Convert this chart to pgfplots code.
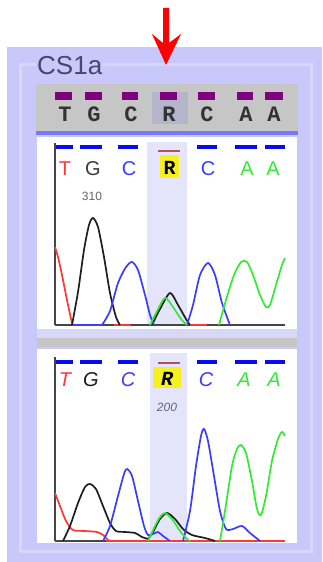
\documentclass[border=0pt]{standalone}
\usepackage{pgfplots}
\pgfplotsset{compat=1.18}
\usepackage{fontspec}
\setmainfont{Liberation Sans}
\newfontfamily\monof{Liberation Mono}
\definecolor{lav}{RGB}{200,200,250}
\definecolor{lavlight}{RGB}{215,215,248}
\definecolor{band}{RGB}{228,228,250}
\definecolor{hdrgray}{RGB}{198,198,198}
\definecolor{hdrhl}{RGB}{180,180,202}
\definecolor{pur}{RGB}{128,0,128}
\definecolor{tred}{RGB}{255,55,55}
\definecolor{tblue}{RGB}{60,60,255}
\definecolor{tgreen}{RGB}{50,235,50}
\definecolor{tblack}{RGB}{30,30,30}
\definecolor{titlec}{RGB}{70,70,110}
\definecolor{barblue}{RGB}{10,10,240}
\definecolor{rbar}{RGB}{180,80,90}
\definecolor{yel}{RGB}{245,240,30}
\definecolor{axc}{RGB}{70,70,70}
\definecolor{hdrline}{RGB}{120,120,255}
\definecolor{hdrtext}{RGB}{50,50,50}
\definecolor{gtext}{RGB}{60,60,60}
\definecolor{numc}{RGB}{100,100,115}
\definecolor{numc2}{RGB}{100,100,130}
\pgfplotsset{chrom/.style={
  scale only axis, width=230pt, xmin=55, xmax=285, ymin=0,
  axis x line=bottom, axis y line=left,
  axis line style={-, line width=2.5pt, draw=axc},
  xtick=\empty, ytick=\empty, clip=false,
  every axis plot/.append style={line width=1.7pt, smooth, tension=0.45}}}
\begin{document}
\begin{tikzpicture}[x=1pt,y=1pt]
\useasboundingbox (0,0) rectangle (322,562);
\fill[white] (0,0) rectangle (322,562);
% outer panel
\fill[lav] (7,0) rectangle (322,515);
\draw[lavlight, line width=3pt] (20,10) rectangle (311,497);
\node[anchor=base west, fill=lav, inner sep=1pt, text=titlec,
      font=\fontsize{26}{28}\selectfont] at (36,487) {CS1a};
% header
\fill[hdrgray] (36,431) rectangle (298,478);
\fill[hdrhl] (152,438) rectangle (188,470);
\fill[hdrline] (36,427) rectangle (298,431);
\foreach \a/\b in {55/72,85/102,122/138,160/177,198/215,237/253,265/283}
  \fill[pur] (\a,462) rectangle (\b,470);
\foreach \x/\l in {65/T,94/G,131/C,169/R,207/C,246/A,274/A}
  \node[anchor=base, inner sep=0pt, text=hdrtext,
        font=\monof\bfseries\fontsize{22}{24}\selectfont] at (\x,440) {\l};
% top white panel
\fill[white] (37,233) rectangle (297,425);
\fill[lavlight] (37,224) rectangle (297,233);
\fill[hdrgray] (37,215) rectangle (297,224);
% bottom white panel
\fill[white] (37,19) rectangle (297,213);
% bands
\fill[band] (147,237) rectangle (187,420);
\fill[band] (150,21) rectangle (187,209);
% top bars and labels
\foreach \a/\b in {55/73,80/102,118/138,197/217,235/257,265/285}
  \fill[barblue] (\a,413) rectangle (\b,417);
\fill[rbar] (158,410) rectangle (180,412);
\fill[yel] (160,384) rectangle (179,407);
\begin{scope}[font=\fontsize{20}{22}\selectfont]
\node[anchor=base, inner sep=0pt, text=tred] at (65,386) {T};
\node[anchor=base, inner sep=0pt, text=gtext] at (93,386) {G};
\node[anchor=base, inner sep=0pt, text=tblue] at (129,386) {C};
\node[anchor=base, inner sep=0pt, text=black, font=\monof\bfseries\fontsize{20}{22}\selectfont] at (169.5,387) {R};
\node[anchor=base, inner sep=0pt, text=tblue] at (208,386) {C};
\node[anchor=base, inner sep=0pt, text=tgreen] at (247,386) {A};
\node[anchor=base, inner sep=0pt, text=tgreen] at (273,386) {A};
\end{scope}
\node[anchor=base, inner sep=0pt, text=numc,
      font=\fontsize{12}{13}\selectfont] at (92,361) {310};
% bottom bars and labels
\foreach \a/\b in {55/73,80/102,118/138,197/217,235/257,265/285}
  \fill[barblue] (\a,198) rectangle (\b,202);
\fill[rbar] (158,198) rectangle (180,200);
\fill[yel] (153,174) rectangle (181,195);
\begin{scope}[font=\itshape\fontsize{20}{22}\selectfont]
\node[anchor=base, inner sep=0pt, text=tred] at (65,175) {T};
\node[anchor=base, inner sep=0pt, text=tblack] at (91,175) {G};
\node[anchor=base, inner sep=0pt, text=tblue] at (128,175) {C};
\node[anchor=base, inner sep=0pt, text=black, font=\monof\bfseries\itshape\fontsize{20}{22}\selectfont] at (167,176) {R};
\node[anchor=base, inner sep=0pt, text=tblue] at (206,175) {C};
\node[anchor=base, inner sep=0pt, text=tgreen] at (244,175) {A};
\node[anchor=base, inner sep=0pt, text=tgreen] at (274,175) {A};
\end{scope}
\node[anchor=base, inner sep=0pt, text=numc2,
      font=\itshape\fontsize{12}{13}\selectfont] at (167,150) {200};
% arrow
\fill[red] (166,497) -- (152,528) -- (163,519) -- (163,554) -- (169,554) -- (169,519) -- (181,528) -- cycle;

% top chromatogram
\begin{axis}[chrom, at={(55pt,237pt)}, anchor=south west, height=182pt, ymax=182]
\addplot[tred] coordinates {(55,78) (58,68) (62,50) (67,25) (72,2) (74,0)};
\addplot[tred, sharp plot] coordinates {(114,0) (131,0)};
\addplot[tred, sharp plot] coordinates {(190,0) (207,0)};
\addplot[tblue, sharp plot] coordinates {(73,0) (102,0)};
\addplot[tblack] coordinates {(72,0) (78,33) (84,75) (89,100) (93,107) (98,98) (104,68) (110,32) (116,8) (120,0)};
\addplot[tblack] coordinates {(152,0) (160,16) (170,32) (178,20) (186,6) (190,0)};
\addplot[tblue] coordinates {(102,0) (110,14) (118,42) (126,58) (132,63) (138,55) (145,30) (150,10) (154,0)};
\addplot[tblue] coordinates {(187,0) (193,20) (200,50) (208,62) (215,50) (222,22) (230,0)};
\addplot[tgreen] coordinates {(150,0) (156,12) (165,27) (173,18) (181,6) (187,0)};
\addplot[tgreen] coordinates {(219,0) (226,25) (234,50) (241,63) (247,63) (253,50) (260,30) (266,18) (270,20) (276,40) (282,60) (285,67)};
\end{axis}

% bottom chromatogram
\begin{axis}[chrom, at={(55pt,21pt)}, anchor=south west, height=184pt, ymax=184]
\addplot[tred, sharp plot] coordinates {(106,0) (285,0)};
\addplot[tred] coordinates {(55,48) (60,35) (66,20) (73,11) (85,10) (97,9) (103,6) (108,1) (112,0)};
\addplot[tblack] coordinates {(63,0) (70,15) (78,38) (85,54) (90,57) (96,52) (103,35) (110,18) (116,10) (125,9) (135,8) (142,4) (148,2)};
\addplot[tblack] coordinates {(148,2) (153,9) (160,22) (167,28) (175,22) (183,12) (192,6) (205,3) (215,0)};
\addplot[tblue] coordinates {(103,0) (110,15) (118,45) (124,67) (127,72) (132,65) (138,40) (144,15) (148,6) (153,7) (158,9) (163,5) (170,0)};
\addplot[tblue] coordinates {(183,0) (190,30) (196,75) (201,105) (204,112) (208,100) (214,65) (220,30) (226,12) (233,12) (242,15) (250,8) (260,0)};
\addplot[tgreen] coordinates {(148,0) (155,15) (160,24) (165,28) (172,22) (180,10) (186,3) (190,0)};
\addplot[tgreen] coordinates {(220,0) (225,30) (232,75) (237,92) (241,96) (246,88) (252,60) (257,32) (261,26) (266,45) (272,80) (278,102) (282,109) (285,105)};
\end{axis}
\end{tikzpicture}
\end{document}
